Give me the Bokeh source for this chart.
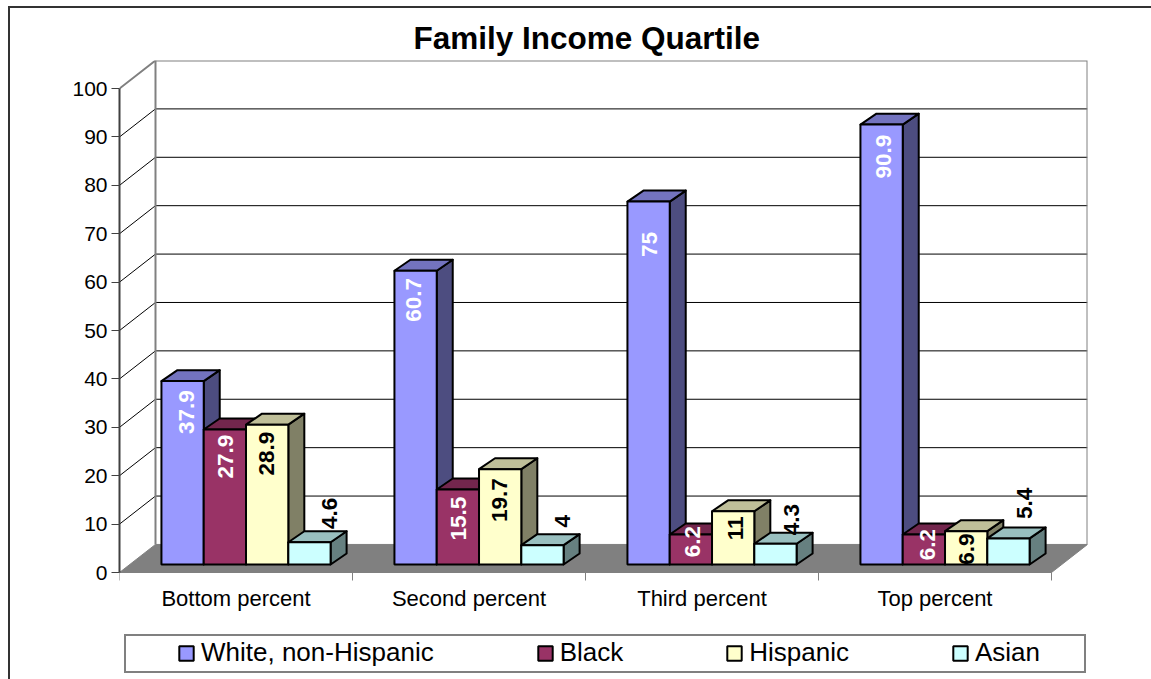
from bokeh.embed import file_html
from bokeh.models import (ColumnDataSource, FixedTicker, InlineStyleSheet, Legend,
                          LegendItem, LinearAxis, Range1d)
from bokeh.core.properties import value
from bokeh.plotting import figure
from bokeh.resources import INLINE
from math import pi

categories = ["Bottom percent", "Second percent", "Third percent", "Top percent"]
series_names = ["White, non-Hispanic", "Black", "Hispanic", "Asian"]
white = [37.9, 60.7, 75, 90.9]
black = [27.9, 15.5, 6.2, 6.2]
hispanic = [28.9, 19.7, 11, 6.9]
asian = [4.6, 4, 4.3, 5.4]
series_values = [white, black, hispanic, asian]

front_colors = ["#9999FF", "#993366", "#FFFFCC", "#CCFFFF"]
top_colors = ["#7373BF", "#73264D", "#BFBF99", "#99BFBF"]
side_colors = ["#4D4D80", "#4D1A33", "#808066", "#668080"]
label_colors = ["white", "white", "black", "black"]
y_ticks = list(range(0, 101, 10))

FONT = "Liberation Sans"
# Oblique projection of the chart box, in data units
WALL_DX, WALL_DY = 0.1545, 5.8
BAR_DX, BAR_DY = 0.0687, 2.27
BAR_BASE = 1.65
BAR_START, BAR_WIDTH = 0.18, 0.1815
N = len(categories)
# The plot frame runs on below zero so that the category labels and legend fit inside it
Y_BELOW_ZERO = 22.107

# Label centre relative to the middle of a bar's top edge, in pixels (right, down)
label_shift = [
    [(4, 31), (-2, 29), (1, 43), (2, 32)],
    [(1, 27), (1, 29), (2, 7), (4, 10)],
    [(-1, 29), (-1, 31), (2, 17), (0, 18)],
    [(20, -29), (20, -24), (16, -24), (16, -35)],
]

# Chart area border (only its top and left edges fall inside the page) and the
# box around the legend, whose side padding is wider than its vertical padding
frame_css = InlineStyleSheet(css="""
:host::after {
  content: ""; position: absolute; left: 8px; top: 6px; width: 1143px; height: 673px;
  border-top: 2px solid #333333; border-left: 2px solid #333333;
  box-sizing: border-box; pointer-events: none; z-index: 1;
}
:host::before {
  content: ""; position: absolute; left: 124px; top: 634px; width: 962px; height: 39px;
  border: 2px solid #808080;
  box-sizing: border-box; pointer-events: none; z-index: 1;
}
""")

p = figure(frame_width=968, frame_height=619, width=1151, height=679,
           x_range=Range1d(0, N + WALL_DX),
           y_range=Range1d(-Y_BELOW_ZERO, 100 + WALL_DY),
           output_backend="svg", toolbar_location=None,
           min_border_left=119, min_border_right=64, min_border_top=60,
           min_border_bottom=0, x_axis_type=None, y_axis_type=None,
           background_fill_color="white", border_fill_color="white",
           stylesheets=[frame_css])
p.outline_line_color = None
p.grid.visible = False

p.title.text = "Family Income Quartile"
p.title.align = "left"
p.title.offset = 294
p.title.standoff = 9
p.title.text_font = FONT
p.title.text_font_size = "31.5px"
p.title.text_font_style = "bold"
p.title.text_color = "black"

yaxis = LinearAxis(ticker=FixedTicker(ticks=y_ticks), bounds=(0, 100))
yaxis.axis_line_color = "#404040"
yaxis.axis_line_width = 2
yaxis.major_tick_in = 0
yaxis.major_tick_out = 8
yaxis.major_tick_line_color = "#404040"
yaxis.minor_tick_line_color = None
yaxis.major_label_text_font = FONT
yaxis.major_label_text_font_size = "21px"
yaxis.major_label_text_color = "black"
yaxis.major_label_standoff = 4
p.add_layout(yaxis, "left")

centres = [i + 0.5 for i in range(N)]
xaxis = LinearAxis(ticker=FixedTicker(ticks=centres, minor_ticks=list(range(N + 1))),
                   bounds=(0, N), fixed_location=0)
xaxis.major_label_overrides = dict(zip(centres, categories))
xaxis.major_tick_in = 0
xaxis.major_tick_out = 0
xaxis.minor_tick_in = 0
xaxis.minor_tick_out = 8
xaxis.axis_line_color = "#808080"
xaxis.minor_tick_line_color = "#808080"
xaxis.major_label_text_font = FONT
xaxis.major_label_text_font_size = "22px"
xaxis.major_label_text_color = "black"
xaxis.major_label_standoff = 5
p.add_layout(xaxis, "below")

# Floor and walls
p.patch([0, WALL_DX, N + WALL_DX, N], [0, WALL_DY, WALL_DY, 0],
        fill_color="#808080", line_color="#808080")
p.multi_line([[WALL_DX, N + WALL_DX] for _ in y_ticks[1:-1]],
             [[t + WALL_DY, t + WALL_DY] for t in y_ticks[1:-1]],
             line_color="black", line_width=1)
p.multi_line([[0, WALL_DX] for _ in y_ticks[1:-1]],
             [[t, t + WALL_DY] for t in y_ticks[1:-1]],
             line_color="black", line_width=1)
p.line([0, WALL_DX, N + WALL_DX, N + WALL_DX],
       [100, 100 + WALL_DY, 100 + WALL_DY, WALL_DY],
       line_color="#808080", line_width=2)
p.line([WALL_DX, WALL_DX], [100 + WALL_DY, WALL_DY],
       line_color="#808080", line_width=2)

# Bars, drawn left to right so each one overlaps the side of its neighbour
legend_items = []
for s, vals in enumerate(series_values):
    lefts = [i + BAR_START + s * BAR_WIDTH for i in range(N)]
    rights = [x + BAR_WIDTH for x in lefts]
    tops = [BAR_BASE + v for v in vals]
    p.patches([[r, r + BAR_DX, r + BAR_DX, r] for r in rights],
              [[BAR_BASE, BAR_BASE + BAR_DY, t + BAR_DY, t] for t in tops],
              fill_color=side_colors[s], line_color="black", line_width=2,
              line_join="round")
    p.patches([[l, l + BAR_DX, r + BAR_DX, r] for l, r in zip(lefts, rights)],
              [[t, t + BAR_DY, t + BAR_DY, t] for t in tops],
              fill_color=top_colors[s], line_color="black", line_width=2,
              line_join="round")
    front = p.quad(left=lefts, right=rights, bottom=BAR_BASE, top=tops,
                   fill_color=front_colors[s], line_color="black", line_width=2)
    legend_items.append(LegendItem(label=series_names[s], renderers=[front]))

# Rotated value labels
for s, vals in enumerate(series_values):
    src = ColumnDataSource(dict(
        x=[i + BAR_START + (s + 0.5) * BAR_WIDTH for i in range(N)],
        y=[BAR_BASE + v for v in vals],
        dx=[d[0] for d in label_shift[s]],
        dy=[d[1] for d in label_shift[s]],
        t=[f"{v:g}" for v in vals]))
    p.text("x", "y", text="t", source=src, angle=pi / 2,
           text_align="center", text_baseline="middle",
           x_offset="dx", y_offset="dy",
           text_color=label_colors[s], text_font=value(FONT),
           text_font_size="22.5px", text_font_style="bold")

legend = Legend(items=legend_items, orientation="horizontal", location=(58, 11),
                spacing=102, padding=0, margin=0, glyph_width=18, glyph_height=18,
                label_standoff=6, label_text_font=FONT, label_text_font_size="26px",
                label_text_color="black", border_line_color=None,
                background_fill_alpha=0)
p.add_layout(legend, "center")

open("out.html", "w").write(file_html(p, INLINE))
